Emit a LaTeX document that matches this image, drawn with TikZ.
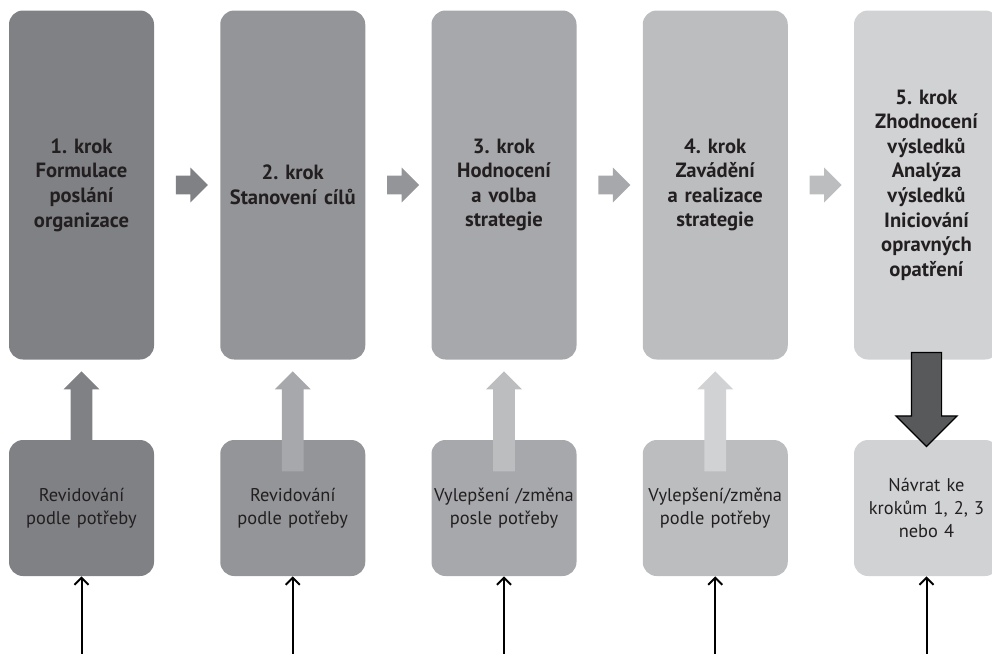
\documentclass[tikz,border=0pt]{standalone}
\usepackage{fontspec}
\setmainfont{PT Sans}
\usetikzlibrary{arrows.meta, calc, shapes.arrows}

\definecolor{toneA}{HTML}{808185}
\definecolor{toneB}{HTML}{949598}
\definecolor{toneC}{HTML}{A7A8AB}
\definecolor{toneD}{HTML}{BCBDBF}
\definecolor{toneE}{HTML}{D1D2D4}
\definecolor{backfill}{HTML}{58595B}
\definecolor{ink}{HTML}{231F20}

\frenchspacing

\begin{document}
\begin{tikzpicture}[
    x=0.5pt, y=-0.5pt,
    stepbox/.style={rounded corners=7pt, inner xsep=0.75pt, text width=71pt, align=center,
        minimum height=174.5pt, text=ink, font=\bfseries\fontsize{10.3}{12.3}\selectfont},
    fixbox/.style={rounded corners=7pt, inner xsep=0.75pt, text width=71pt, align=center,
        minimum height=68pt, text=ink, font=\fontsize{9.2}{11.4}\selectfont},
    nextarrow/.style={single arrow, inner sep=0pt, inner ysep=4.5pt, minimum width=17pt,
        minimum height=16pt, single arrow head extend=4pt},
    uparrow/.style={single arrow, rotate=90, anchor=tip, inner sep=0pt, inner ysep=5.25pt,
        minimum width=17.5pt, minimum height=50pt, single arrow head extend=3.5pt},
    backarrow/.style={single arrow, rotate=-90, anchor=tail, draw=black, line width=0.6pt,
        fill=backfill, inner sep=0pt, inner ysep=7.25pt, minimum width=30pt,
        minimum height=47pt, single arrow head extend=7.75pt},
    feed/.style={-{Straight Barb[length=3.5pt, width=7pt]}, line width=1pt, black}
]

    \useasboundingbox (0,0) rectangle (992,654);

    \def\dx{211.25}
    \def\xa{81.5}

    % steps
    \node[stepbox, fill=toneA] (t1) at (\xa, 185) {1. krok\\Formulace\\poslání\\organizace};
    \node[stepbox, fill=toneB] (t2) at (\xa+\dx, 185) {2. krok\\Stanovení cílů};
    \node[stepbox, fill=toneC] (t3) at (\xa+2*\dx, 185) {3. krok\\Hodnocení\\a volba\\strategie};
    \node[stepbox, fill=toneD] (t4) at (\xa+3*\dx, 185) {4. krok\\Zavádění\\a realizace\\strategie};
    \node[stepbox, fill=toneE] (t5) at (\xa+4*\dx, 185) {5. krok\\Zhodnocení\\výsledků\\Analýza\\výsledků\\Iniciování\\opravných\\opatření};

    % revisions
    \node[fixbox, fill=toneA] (b1) at (\xa, 508) {Revidování\\podle potřeby};
    \node[fixbox, fill=toneB] (b2) at (\xa+\dx, 508) {Revidování\\podle potřeby};
    \node[fixbox, fill=toneC] (b3) at (\xa+2*\dx, 508) {Vylepšení~/změna\\posle potřeby};
    \node[fixbox, fill=toneD] (b4) at (\xa+3*\dx, 508) {Vylepšení/změna\\podle potřeby};
    \node[fixbox, fill=toneE] (b5) at (\xa+4*\dx, 508) {Návrat ke\\krokům 1, 2, 3\\nebo 4};

    % flow between steps
    \foreach \i/\j/\c in {1/2/toneA, 2/3/toneB, 3/4/toneC, 4/5/toneD}
        \node[nextarrow, fill=\c] (n\i) at ($(t\i.east)!0.5!(t\j.west)$) {};

    % feedback upwards
    \foreach \i/\c in {1/toneA, 2/toneC, 3/toneD, 4/toneE}
        \node[uparrow, fill=\c] (u\i) at ($(t\i.south)+(0,11)$) {};

    \node[backarrow] (back) at ($(t5.south)+(0,-8)$) {};

    % inputs
    \foreach \i in {1,...,5} {
        \path (b\i.south) ++(0,80) coordinate (in\i);
        \draw[feed] (in\i) -- (b\i.south);
    }

\end{tikzpicture}
\end{document}
